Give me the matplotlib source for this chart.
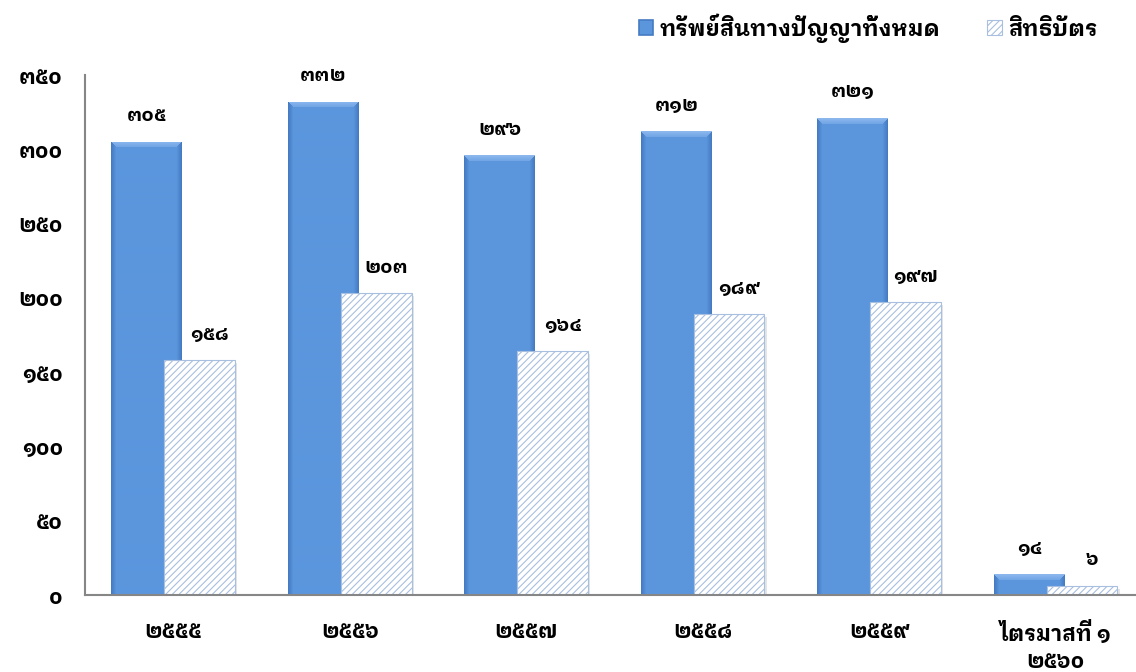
import numpy as np
import matplotlib
matplotlib.use("Agg")
import matplotlib.pyplot as plt
from matplotlib.patches import Patch

plt.rcParams['font.family'] = ['IBM Plex Sans Thai Looped', 'DejaVu Sans']
plt.rcParams['font.weight'] = 'bold'
plt.rcParams['hatch.linewidth'] = 0.8

# ข้อมูลจำนวนคำขอ
categories = ["๒๕๕๕", "๒๕๕๖", "๒๕๕๗", "๒๕๕๘", "๒๕๕๙", "ไตรมาสที่ ๑\n๒๕๖๐"]
ip_total = [305, 332, 296, 312, 321, 14]
patents = [158, 203, 164, 189, 197, 6]
series_names = ["ทรัพย์สินทางปัญญาทั้งหมด", "สิทธิบัตร"]
yticks = [0, 50, 100, 150, 200, 250, 300, 350]

thai_digits = str.maketrans("0123456789", "๐๑๒๓๔๕๖๗๘๙")


def th(n):
    return str(n).translate(thai_digits)


W, H = 1136, 672
fig = plt.figure(figsize=(W / 100, H / 100), dpi=100)
ax = fig.add_axes([85 / W, 1 - 595 / H, (W - 85) / W, 520 / H])

x = np.arange(len(categories))
width = 0.40
off = 0.15

ax.set_xlim(-0.5, 5.455)
ax.set_ylim(0, 350)

blue = np.array([0x5B, 0x96, 0xDD]) / 255
blue_edge = np.array([0x45, 0x7B, 0xC2]) / 255
blue_top = np.array([0x8C, 0xB8, 0xEE]) / 255
hatch_col = '#A9BFE0'

# pixels per data unit, used to size the bevel shading
sx = ax.transData.transform((1, 0))[0] - ax.transData.transform((0, 0))[0]
sy = ax.transData.transform((0, 1))[1] - ax.transData.transform((0, 0))[1]

bars_ip = ax.bar(x - off, ip_total, width, color=blue, edgecolor='none', zorder=2)
for b in bars_ip:
    pw = max(int(round(b.get_width() * sx)), 8)
    ph = max(int(round(b.get_height() * sy)), 8)
    img = np.ones((ph, pw, 3)) * blue
    cols = np.arange(pw)
    edge_d = np.minimum(cols, pw - 1 - cols)
    side = np.clip(1 - edge_d / 5.0, 0, 1)[None, :, None]
    img = img * (1 - side) + blue_edge * side
    bev = 6
    for r in range(min(bev, ph)):
        lo, hi = r, pw - r
        t = 1 - r / (bev * 1.6)
        img[r, lo:hi] = img[r, lo:hi] * (1 - t) + blue_top * t
    im = ax.imshow(img, extent=(b.get_x(), b.get_x() + b.get_width(), 0, b.get_height()),
                   origin='upper', aspect='auto', interpolation='bilinear', zorder=2)
    im.set_clip_path(b)

# soft shadow to the right of the patterned bars
ax.bar(x + off + 0.012, patents, width, bottom=-2, color='#000000', alpha=0.10,
       edgecolor='none', zorder=1)
bars_pt = ax.bar(x + off, patents, width, color='white', edgecolor=hatch_col,
                 hatch='/////', linewidth=0.8, zorder=3)

for b, v in zip(bars_ip, ip_total):
    ax.annotate(th(v), (b.get_x() + b.get_width() / 2, v), xytext=(0, 12),
                textcoords='offset points', ha='center', va='bottom', fontsize=14)
for b, v in zip(bars_pt, patents):
    ax.annotate(th(v), (b.get_x() + b.get_width() / 2, v), xytext=(7, 12),
                textcoords='offset points', ha='center', va='bottom', fontsize=14)

ax.set_yticks(yticks)
ax.set_yticklabels([th(v) for v in yticks], fontsize=15.5)
ax.set_xticks(x)
ax.set_xticklabels(categories, fontsize=15.5, linespacing=1.35)
ax.tick_params(axis='y', length=0, pad=16)
ax.tick_params(axis='x', length=0, pad=19)

for s in ['top', 'right']:
    ax.spines[s].set_visible(False)
for s in ['left', 'bottom']:
    ax.spines[s].set_color('#868686')
    ax.spines[s].set_linewidth(1.5)
    ax.spines[s].set_zorder(4)

handles = [Patch(facecolor=blue, edgecolor=blue_edge, linewidth=1.2),
           Patch(facecolor='white', edgecolor=hatch_col, hatch='/////', linewidth=0.8)]
fig.legend(handles, series_names, loc='upper right', bbox_to_anchor=(1118 / W, 1 + 7 / H),
           ncol=2, frameon=False, fontsize=16, handlelength=0.65, handleheight=0.65,
           handletextpad=0.3, columnspacing=2.1)

fig.savefig("out.png", dpi=100)
